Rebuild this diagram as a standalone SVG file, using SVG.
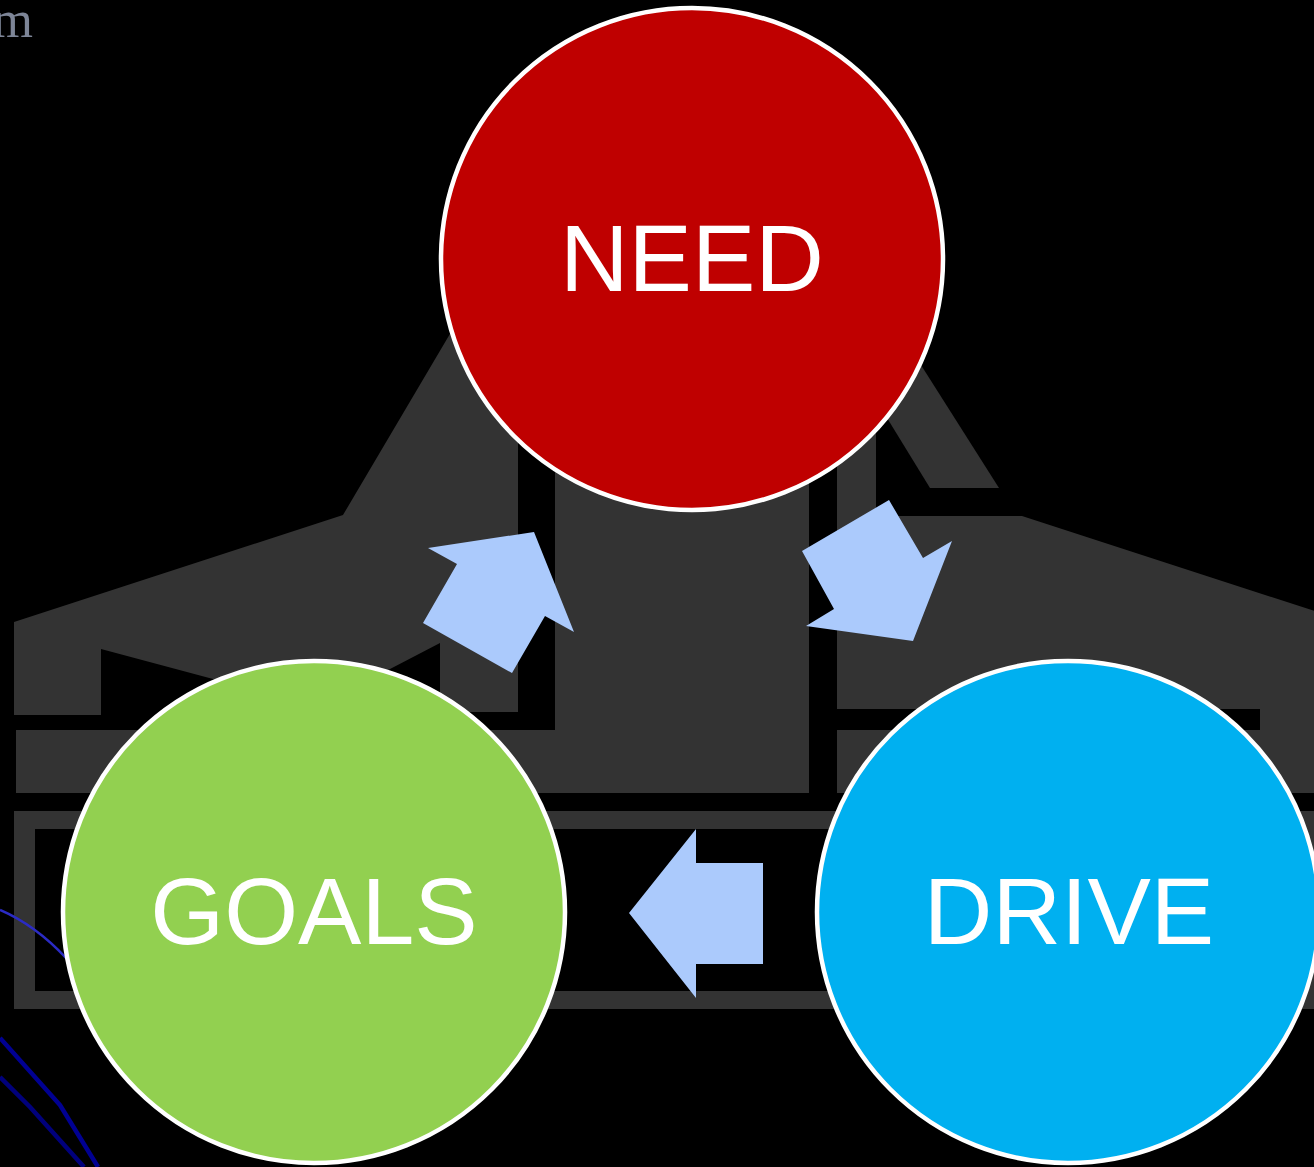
<svg xmlns="http://www.w3.org/2000/svg" width="1314" height="1167" viewBox="0 0 1314 1167">
  <style>
    .bg { fill: #333333; }
    .node { stroke: #ffffff; stroke-width: 4.5; }
    .label { font-family: "Liberation Sans", Arial, sans-serif; font-size: 95px; fill: #ffffff; text-anchor: middle; }
    .arrow { fill: #abcafc; }
  </style>
  <rect x="0" y="0" width="1314" height="1167" fill="#000000"/>
  <text x="33" y="37" font-family="Liberation Serif, serif" font-size="52" fill="#7d8597" text-anchor="end">m</text>
  <g id="background">
    <polygon class="bg" points="14,622 343,515 470,300 518,300 518,712 440,712 440,643 317,707 101,649 101,715 14,715"/>
    <polygon class="bg" points="555,300 809,300 809,793 16,793 16,730 555,730"/>
    <rect class="bg" x="837" y="300" width="39" height="220"/>
    <polygon class="bg" points="784,250 848,250 999,488 930,488"/>
    <polygon class="bg" points="837,516 1022,516 1330,616 1330,793 1260,793 1260,709 837,709"/>
    <rect class="bg" x="837" y="730" width="493" height="63"/>
    <path class="bg" fill-rule="evenodd" d="M14,811 H1330 V1009 H14 Z M35,829 H1293 V991 H35 Z"/>
  </g>
  <g id="decor-lines" fill="none">
    <path d="M0,910 Q35,925 66,958" stroke="#2b2bc4" stroke-width="2.5"/>
    <path d="M0,1038 L60,1105 L98,1167" stroke="#000092" stroke-width="4.5"/>
    <path d="M0,1077 L30,1107 L84,1167" stroke="#00007c" stroke-width="4.5"/>
  </g>
  <g id="connectors">
    <polygon id="arrow-goals-need" class="arrow" points="428,548 534,532 574,632 545,616 512,673 423,623 457,564"/>
    <polygon id="arrow-need-drive" class="arrow" points="802,551 889,500 923,558 952,541 913,641 806,626 834,609"/>
    <polygon id="arrow-drive-goals" class="arrow" points="763,863 696,863 696,829 629,913 696,998 696,964 763,964"/>
  </g>
  <g id="node-need">
    <circle class="node" cx="692" cy="259" r="251" fill="#bf0000"/>
    <text class="label" x="692" y="291">NEED</text>
  </g>
  <g id="node-goals">
    <circle class="node" cx="314" cy="912" r="251" fill="#92d050"/>
    <text class="label" x="314" y="944">GOALS</text>
  </g>
  <g id="node-drive">
    <circle class="node" cx="1068" cy="912" r="251" fill="#00b0f0"/>
    <text class="label" x="1069" y="944">DRIVE</text>
  </g>
</svg>
